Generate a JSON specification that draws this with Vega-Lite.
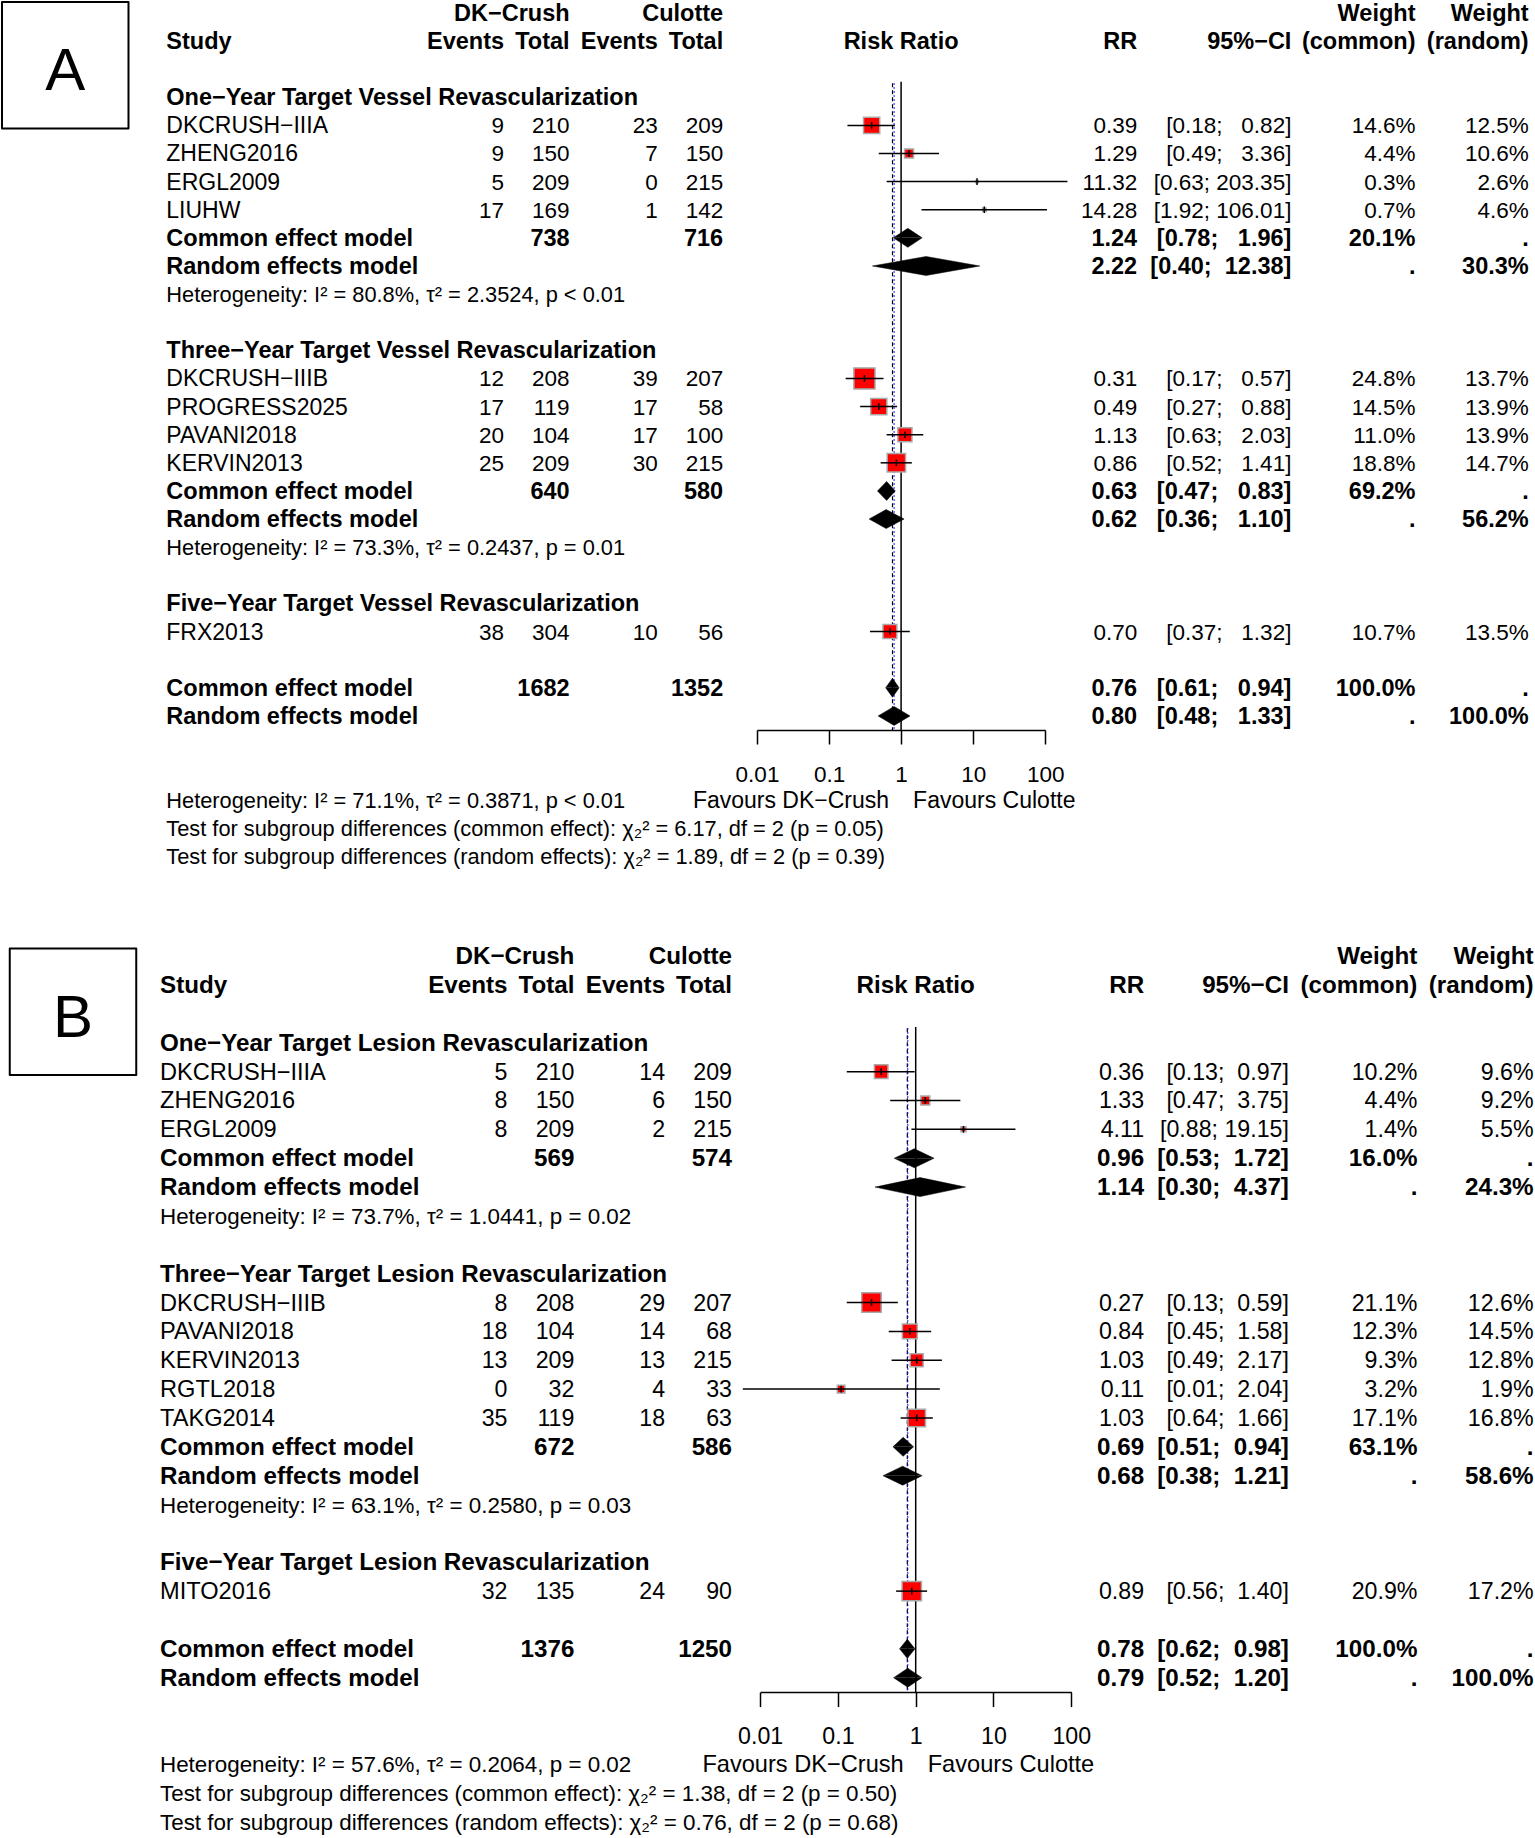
{
"$schema": "https://vega.github.io/schema/vega-lite/v6.json",
"padding": 0,
"background": "white",
"spacing": 0,
"bounds": "flush",
"config": {"view": {"stroke": null}},
"datasets": {
"cols": [{"col":"de","idx":2},{"col":"dt","idx":3},{"col":"ce","idx":4},{"col":"ct","idx":5},{"col":"rrt","idx":6},{"col":"ci","idx":7},{"col":"wc","idx":8},{"col":"wr","idx":9}],
"A": [
{"row":0,"kind":"header","dt":"DK−Crush","ct":"Culotte","wc":"Weight","wr":"Weight"},
{"row":1,"kind":"header","label":"Study","de":"Events","dt":"Total","ce":"Events","ct":"Total","rrt":"RR","ci":"95%−CI","wc":"(common)","wr":"(random)"},
{"row":3,"kind":"group","label":"One−Year Target Vessel Revascularization"},
{"row":4,"kind":"study","label":"DKCRUSH−IIIA","de":9,"dt":210,"ce":23,"ct":209,"rr":0.39,"lo":0.18,"hi":0.82,"rrt":"0.39","ci":"[0.18;\u00a0\u00a0\u00a00.82]","wc":"14.6%","wr":"12.5%","w":14.6},
{"row":5,"kind":"study","label":"ZHENG2016","de":9,"dt":150,"ce":7,"ct":150,"rr":1.29,"lo":0.49,"hi":3.36,"rrt":"1.29","ci":"[0.49;\u00a0\u00a0\u00a03.36]","wc":"4.4%","wr":"10.6%","w":4.4},
{"row":6,"kind":"study","label":"ERGL2009","de":5,"dt":209,"ce":0,"ct":215,"rr":11.32,"lo":0.63,"hi":203.35,"rrt":"11.32","ci":"[0.63;\u00a0203.35]","wc":"0.3%","wr":"2.6%","w":0.3},
{"row":7,"kind":"study","label":"LIUHW","de":17,"dt":169,"ce":1,"ct":142,"rr":14.28,"lo":1.92,"hi":106.01,"rrt":"14.28","ci":"[1.92;\u00a0106.01]","wc":"0.7%","wr":"4.6%","w":0.7},
{"row":8,"kind":"common","label":"Common effect model","dt":738,"ct":716,"rr":1.24,"lo":0.78,"hi":1.96,"rrt":"1.24","ci":"[0.78;\u00a0\u00a0\u00a01.96]","wc":"20.1%","wr":"."},
{"row":9,"kind":"random","label":"Random effects model","rr":2.22,"lo":0.40,"hi":12.38,"rrt":"2.22","ci":"[0.40;\u00a0\u00a012.38]","wc":".","wr":"30.3%"},
{"row":10,"kind":"note","label":"Heterogeneity: I² = 80.8%, τ² = 2.3524, p < 0.01"},
{"row":12,"kind":"group","label":"Three−Year Target Vessel Revascularization"},
{"row":13,"kind":"study","label":"DKCRUSH−IIIB","de":12,"dt":208,"ce":39,"ct":207,"rr":0.31,"lo":0.17,"hi":0.57,"rrt":"0.31","ci":"[0.17;\u00a0\u00a0\u00a00.57]","wc":"24.8%","wr":"13.7%","w":24.8},
{"row":14,"kind":"study","label":"PROGRESS2025","de":17,"dt":119,"ce":17,"ct":58,"rr":0.49,"lo":0.27,"hi":0.88,"rrt":"0.49","ci":"[0.27;\u00a0\u00a0\u00a00.88]","wc":"14.5%","wr":"13.9%","w":14.5},
{"row":15,"kind":"study","label":"PAVANI2018","de":20,"dt":104,"ce":17,"ct":100,"rr":1.13,"lo":0.63,"hi":2.03,"rrt":"1.13","ci":"[0.63;\u00a0\u00a0\u00a02.03]","wc":"11.0%","wr":"13.9%","w":11.0},
{"row":16,"kind":"study","label":"KERVIN2013","de":25,"dt":209,"ce":30,"ct":215,"rr":0.86,"lo":0.52,"hi":1.41,"rrt":"0.86","ci":"[0.52;\u00a0\u00a0\u00a01.41]","wc":"18.8%","wr":"14.7%","w":18.8},
{"row":17,"kind":"common","label":"Common effect model","dt":640,"ct":580,"rr":0.63,"lo":0.47,"hi":0.83,"rrt":"0.63","ci":"[0.47;\u00a0\u00a0\u00a00.83]","wc":"69.2%","wr":"."},
{"row":18,"kind":"random","label":"Random effects model","rr":0.62,"lo":0.36,"hi":1.10,"rrt":"0.62","ci":"[0.36;\u00a0\u00a0\u00a01.10]","wc":".","wr":"56.2%"},
{"row":19,"kind":"note","label":"Heterogeneity: I² = 73.3%, τ² = 0.2437, p = 0.01"},
{"row":21,"kind":"group","label":"Five−Year Target Vessel Revascularization"},
{"row":22,"kind":"study","label":"FRX2013","de":38,"dt":304,"ce":10,"ct":56,"rr":0.70,"lo":0.37,"hi":1.32,"rrt":"0.70","ci":"[0.37;\u00a0\u00a0\u00a01.32]","wc":"10.7%","wr":"13.5%","w":10.7},
{"row":24,"kind":"ocommon","label":"Common effect model","dt":1682,"ct":1352,"rr":0.76,"lo":0.61,"hi":0.94,"rrt":"0.76","ci":"[0.61;\u00a0\u00a0\u00a00.94]","wc":"100.0%","wr":"."},
{"row":25,"kind":"orandom","label":"Random effects model","rr":0.80,"lo":0.48,"hi":1.33,"rrt":"0.80","ci":"[0.48;\u00a0\u00a0\u00a01.33]","wc":".","wr":"100.0%"},
{"row":28,"kind":"note","label":"Heterogeneity: I² = 71.1%, τ² = 0.3871, p < 0.01"},
{"row":29,"kind":"note","label":"Test for subgroup differences (common effect): χ₂² = 6.17, df = 2 (p = 0.05)"},
{"row":30,"kind":"note","label":"Test for subgroup differences (random effects): χ₂² = 1.89, df = 2 (p = 0.39)"}
],
"B": [
{"row":0,"kind":"header","dt":"DK−Crush","ct":"Culotte","wc":"Weight","wr":"Weight"},
{"row":1,"kind":"header","label":"Study","de":"Events","dt":"Total","ce":"Events","ct":"Total","rrt":"RR","ci":"95%−CI","wc":"(common)","wr":"(random)"},
{"row":3,"kind":"group","label":"One−Year Target Lesion Revascularization"},
{"row":4,"kind":"study","label":"DKCRUSH−IIIA","de":5,"dt":210,"ce":14,"ct":209,"rr":0.36,"lo":0.13,"hi":0.97,"rrt":"0.36","ci":"[0.13;\u00a0\u00a00.97]","wc":"10.2%","wr":"9.6%","w":10.2},
{"row":5,"kind":"study","label":"ZHENG2016","de":8,"dt":150,"ce":6,"ct":150,"rr":1.33,"lo":0.47,"hi":3.75,"rrt":"1.33","ci":"[0.47;\u00a0\u00a03.75]","wc":"4.4%","wr":"9.2%","w":4.4},
{"row":6,"kind":"study","label":"ERGL2009","de":8,"dt":209,"ce":2,"ct":215,"rr":4.11,"lo":0.88,"hi":19.15,"rrt":"4.11","ci":"[0.88;\u00a019.15]","wc":"1.4%","wr":"5.5%","w":1.4},
{"row":7,"kind":"common","label":"Common effect model","dt":569,"ct":574,"rr":0.96,"lo":0.53,"hi":1.72,"rrt":"0.96","ci":"[0.53;\u00a0\u00a01.72]","wc":"16.0%","wr":"."},
{"row":8,"kind":"random","label":"Random effects model","rr":1.14,"lo":0.30,"hi":4.37,"rrt":"1.14","ci":"[0.30;\u00a0\u00a04.37]","wc":".","wr":"24.3%"},
{"row":9,"kind":"note","label":"Heterogeneity: I² = 73.7%, τ² = 1.0441, p = 0.02"},
{"row":11,"kind":"group","label":"Three−Year Target Lesion Revascularization"},
{"row":12,"kind":"study","label":"DKCRUSH−IIIB","de":8,"dt":208,"ce":29,"ct":207,"rr":0.27,"lo":0.13,"hi":0.59,"rrt":"0.27","ci":"[0.13;\u00a0\u00a00.59]","wc":"21.1%","wr":"12.6%","w":21.1},
{"row":13,"kind":"study","label":"PAVANI2018","de":18,"dt":104,"ce":14,"ct":68,"rr":0.84,"lo":0.45,"hi":1.58,"rrt":"0.84","ci":"[0.45;\u00a0\u00a01.58]","wc":"12.3%","wr":"14.5%","w":12.3},
{"row":14,"kind":"study","label":"KERVIN2013","de":13,"dt":209,"ce":13,"ct":215,"rr":1.03,"lo":0.49,"hi":2.17,"rrt":"1.03","ci":"[0.49;\u00a0\u00a02.17]","wc":"9.3%","wr":"12.8%","w":9.3},
{"row":15,"kind":"study","label":"RGTL2018","de":0,"dt":32,"ce":4,"ct":33,"rr":0.11,"lo":0.006,"hi":2.04,"rrt":"0.11","ci":"[0.01;\u00a0\u00a02.04]","wc":"3.2%","wr":"1.9%","w":3.2},
{"row":16,"kind":"study","label":"TAKG2014","de":35,"dt":119,"ce":18,"ct":63,"rr":1.03,"lo":0.64,"hi":1.66,"rrt":"1.03","ci":"[0.64;\u00a0\u00a01.66]","wc":"17.1%","wr":"16.8%","w":17.1},
{"row":17,"kind":"common","label":"Common effect model","dt":672,"ct":586,"rr":0.69,"lo":0.51,"hi":0.94,"rrt":"0.69","ci":"[0.51;\u00a0\u00a00.94]","wc":"63.1%","wr":"."},
{"row":18,"kind":"random","label":"Random effects model","rr":0.68,"lo":0.38,"hi":1.21,"rrt":"0.68","ci":"[0.38;\u00a0\u00a01.21]","wc":".","wr":"58.6%"},
{"row":19,"kind":"note","label":"Heterogeneity: I² = 63.1%, τ² = 0.2580, p = 0.03"},
{"row":21,"kind":"group","label":"Five−Year Target Lesion Revascularization"},
{"row":22,"kind":"study","label":"MITO2016","de":32,"dt":135,"ce":24,"ct":90,"rr":0.89,"lo":0.56,"hi":1.40,"rrt":"0.89","ci":"[0.56;\u00a0\u00a01.40]","wc":"20.9%","wr":"17.2%","w":20.9},
{"row":24,"kind":"ocommon","label":"Common effect model","dt":1376,"ct":1250,"rr":0.78,"lo":0.62,"hi":0.98,"rrt":"0.78","ci":"[0.62;\u00a0\u00a00.98]","wc":"100.0%","wr":"."},
{"row":25,"kind":"orandom","label":"Random effects model","rr":0.79,"lo":0.52,"hi":1.20,"rrt":"0.79","ci":"[0.52;\u00a0\u00a01.20]","wc":".","wr":"100.0%"},
{"row":28,"kind":"note","label":"Heterogeneity: I² = 57.6%, τ² = 0.2064, p = 0.02"},
{"row":29,"kind":"note","label":"Test for subgroup differences (common effect): χ₂² = 1.38, df = 2 (p = 0.50)"},
{"row":30,"kind":"note","label":"Test for subgroup differences (random effects): χ₂² = 0.76, df = 2 (p = 0.68)"}
]
},
"vconcat": [
{
"width": 1535, "height": 900,
"data": {"name": "A"},
"resolve": {"scale": {"x": "independent", "y": "independent"}},
"layer": [
{"layer": [
{"transform": [{"filter": {"field": "kind", "equal": "study"}}],
 "mark": {"type": "text", "align": "left", "baseline": "middle", "dy": 1, "font": "Liberation Sans", "fontSize": 23, "color": "black"},
 "encoding": {"x": {"datum": 1, "type": "quantitative", "scale": {"type": "linear", "domain": [0,1,2,3,4,5,6,7,8,9], "range": [65.25,166.3,504.1,569.6,657.8,723.2,1137.2,1291.4,1415.5,1528.7], "nice": false, "zero": false}, "axis": null},
  "y": {"field": "row", "type": "quantitative", "scale": {"domain": [-0.4587, 31.547], "reverse": true, "nice": false, "zero": false}, "axis": null},
  "text": {"field": "label", "type": "nominal"}}},
{"transform": [{"filter": {"field": "kind", "equal": "note"}}],
 "mark": {"type": "text", "align": "left", "baseline": "middle", "dy": 1, "font": "Liberation Sans", "fontSize": 21.8, "color": "black"},
 "encoding": {"x": {"datum": 1, "type": "quantitative", "axis": null},
  "y": {"field": "row", "type": "quantitative", "axis": null},
  "text": {"field": "label", "type": "nominal"}}},
{"transform": [{"filter": {"field": "kind", "oneOf": ["header","group","common","random","ocommon","orandom"]}}, {"filter": "isValid(datum.label)"}],
 "mark": {"type": "text", "align": "left", "baseline": "middle", "dy": 1, "font": "Liberation Sans", "fontSize": 23.5, "fontWeight": "bold", "color": "black"},
 "encoding": {"x": {"datum": 1, "type": "quantitative", "axis": null},
  "y": {"field": "row", "type": "quantitative", "axis": null},
  "text": {"field": "label", "type": "nominal"}}},
{"transform": [{"filter": {"field": "kind", "equal": "study"}}, {"fold": ["de","dt","ce","ct","rrt","ci","wc","wr"], "as": ["col","txt"]}, {"filter": "isValid(datum.txt)"}, {"lookup": "col", "from": {"data": {"name": "cols"}, "key": "col", "fields": ["idx"]}}],
 "mark": {"type": "text", "align": "right", "baseline": "middle", "dy": 1, "font": "Liberation Sans", "fontSize": 22.5, "color": "black"},
 "encoding": {"x": {"field": "idx", "type": "quantitative", "axis": null},
  "y": {"field": "row", "type": "quantitative", "axis": null},
  "text": {"field": "txt", "type": "nominal"}}},
{"transform": [{"filter": {"field": "kind", "oneOf": ["header","group","common","random","ocommon","orandom"]}}, {"fold": ["de","dt","ce","ct","rrt","ci","wc","wr"], "as": ["col","txt"]}, {"filter": "isValid(datum.txt)"}, {"lookup": "col", "from": {"data": {"name": "cols"}, "key": "col", "fields": ["idx"]}}],
 "mark": {"type": "text", "align": "right", "baseline": "middle", "dy": 1, "font": "Liberation Sans", "fontSize": 23.5, "fontWeight": "bold", "color": "black"},
 "encoding": {"x": {"field": "idx", "type": "quantitative", "axis": null},
  "y": {"field": "row", "type": "quantitative", "axis": null},
  "text": {"field": "txt", "type": "nominal"}}},
{"data": {"values": [{}]},
 "mark": {"type": "point", "shape": "square", "size": 16002, "filled": false, "stroke": "black", "strokeWidth": 2, "strokeJoin": "round", "opacity": 1},
 "encoding": {"x": {"datum": 0, "type": "quantitative", "axis": null}, "y": {"datum": 1.8634, "type": "quantitative", "axis": null}}},
{"data": {"values": [{"t": "A"}]},
 "mark": {"type": "text", "align": "center", "baseline": "middle", "font": "Liberation Sans", "fontSize": 60, "color": "black"},
 "encoding": {"x": {"datum": 0, "type": "quantitative", "axis": null}, "y": {"datum": 2.084, "type": "quantitative", "axis": null}, "text": {"field": "t", "type": "nominal"}}}
]},
{"layer": [
{"data": {"values": [{}]},
 "mark": {"type": "rule", "color": "black", "strokeWidth": 1.5},
 "encoding": {"x": {"datum": 1, "type": "quantitative", "scale": {"type": "log", "domain": [0.01, 100], "range": [757, 1045.2], "nice": false},
   "axis": {"orient": "bottom", "offset": -170, "values": [0.01,0.1,1,10,100], "format": "~g", "tickSize": 14, "tickWidth": 1.5, "tickColor": "black", "domainColor": "black", "domainWidth": 1.5, "labelFontSize": 22.5, "labelFont": "Liberation Sans", "labelColor": "black", "labelPadding": 19.5, "labelFlush": false, "labelOverlap": false, "grid": false, "title": null}},
  "y": {"datum": 2.45, "type": "quantitative", "scale": {"domain": [-0.4587, 31.547], "reverse": true, "nice": false, "zero": false}, "axis": null}, "y2": {"datum": 25.5}}},
{"transform": [{"filter": {"field": "kind", "equal": "ocommon"}}],
 "mark": {"type": "rule", "color": "black", "strokeWidth": 1.2, "strokeDash": [4, 3]},
 "encoding": {"x": {"field": "rr", "type": "quantitative"}, "y": {"datum": 2.5, "type": "quantitative", "axis": null}, "y2": {"datum": 25.5}}},
{"transform": [{"filter": {"field": "kind", "equal": "orandom"}}],
 "mark": {"type": "rule", "color": "#0000ff", "strokeWidth": 1.2, "strokeDash": [1.5, 2.5]},
 "encoding": {"x": {"field": "rr", "type": "quantitative"}, "y": {"datum": 2.5, "type": "quantitative", "axis": null}, "y2": {"datum": 25.5}}},
{"transform": [{"filter": {"field": "kind", "equal": "study"}}],
 "mark": {"type": "point", "shape": "square", "filled": true, "color": "#ff0000", "stroke": "#a9a9a9", "strokeWidth": 1.5, "opacity": 1},
 "encoding": {"x": {"field": "rr", "type": "quantitative"}, "y": {"field": "row", "type": "quantitative", "axis": null},
  "size": {"field": "w", "type": "quantitative", "scale": {"domain": [0, 25], "range": [0, 450], "zero": true}, "legend": null}}},
{"transform": [{"filter": {"field": "kind", "equal": "study"}}],
 "mark": {"type": "rule", "color": "black", "strokeWidth": 1.5},
 "encoding": {"x": {"field": "lo", "type": "quantitative"}, "x2": {"field": "hi"}, "y": {"field": "row", "type": "quantitative", "axis": null}}},
{"transform": [{"filter": {"field": "kind", "equal": "study"}}],
 "mark": {"type": "point", "shape": "M0,-1L0,1", "size": 44, "filled": false, "stroke": "black", "strokeWidth": 1.5, "opacity": 1},
 "encoding": {"x": {"field": "rr", "type": "quantitative"}, "y": {"field": "row", "type": "quantitative", "axis": null}}},
{"data": {"values": [{"t": "Risk Ratio"}]},
 "mark": {"type": "text", "align": "center", "baseline": "middle", "dy": 1, "font": "Liberation Sans", "fontSize": 23.5, "fontWeight": "bold", "color": "black"},
 "encoding": {"x": {"datum": 1, "type": "quantitative"}, "y": {"datum": 1, "type": "quantitative", "axis": null}, "text": {"field": "t", "type": "nominal"}}},
{"data": {"values": [{"t": "Favours DK−Crush"}]},
 "mark": {"type": "text", "align": "right", "baseline": "middle", "dy": 1, "dx": -12, "font": "Liberation Sans", "fontSize": 23, "color": "black"},
 "encoding": {"x": {"datum": 1, "type": "quantitative"}, "y": {"datum": 28, "type": "quantitative", "axis": null}, "text": {"field": "t", "type": "nominal"}}},
{"data": {"values": [{"t": "Favours Culotte"}]},
 "mark": {"type": "text", "align": "left", "baseline": "middle", "dy": 1, "dx": 12, "font": "Liberation Sans", "fontSize": 23, "color": "black"},
 "encoding": {"x": {"datum": 1, "type": "quantitative"}, "y": {"datum": 28, "type": "quantitative", "axis": null}, "text": {"field": "t", "type": "nominal"}}}
]},
{"resolve": {"scale": {"yOffset": "independent"}},
 "transform": [{"filter": {"field": "kind", "oneOf": ["common","random","ocommon","orandom"]}}, {"fold": ["lo","rr","hi"], "as": ["pt","val"]}, {"window": [{"op": "row_number", "as": "vi"}], "groupby": ["row"]}],
 "layer": [
{"mark": {"type": "line", "fill": "black", "stroke": "black", "strokeWidth": 0.5},
 "encoding": {"x": {"field": "val", "type": "quantitative", "scale": {"type": "log", "domain": [0.01, 100], "range": [757, 1045.2], "nice": false}, "axis": null},
  "y": {"field": "row", "type": "ordinal", "scale": {"type": "band", "domain": [0,1,2,3,4,5,6,7,8,9,10,11,12,13,14,15,16,17,18,19,20,21,22,23,24,25,26,27,28,29,30,31], "paddingInner": 0, "paddingOuter": 0.003, "align": 0, "round": false}, "axis": null},
  "yOffset": {"field": "vi", "type": "quantitative", "scale": {"domain": [1, 2, 3], "range": [12.9, 3.4, 12.9], "nice": false, "zero": false}},
  "order": {"field": "vi", "type": "quantitative"},
  "detail": {"field": "row", "type": "nominal"}}},
{"mark": {"type": "line", "fill": "black", "stroke": "black", "strokeWidth": 0.5},
 "encoding": {"x": {"field": "val", "type": "quantitative"},
  "y": {"field": "row", "type": "ordinal", "axis": null},
  "yOffset": {"field": "vi", "type": "quantitative", "scale": {"domain": [1, 2, 3], "range": [12.9, 22.4, 12.9], "nice": false, "zero": false}},
  "order": {"field": "vi", "type": "quantitative"},
  "detail": {"field": "row", "type": "nominal"}}}
]}
]
},
{
"width": 1535, "height": 938,
"data": {"name": "B"},
"resolve": {"scale": {"x": "independent", "y": "independent"}},
"layer": [
{"layer": [
{"transform": [{"filter": {"field": "kind", "equal": "study"}}],
 "mark": {"type": "text", "align": "left", "baseline": "middle", "dy": 1, "font": "Liberation Sans", "fontSize": 23.6, "color": "black"},
 "encoding": {"x": {"datum": 1, "type": "quantitative", "scale": {"type": "linear", "domain": [0,1,2,3,4,5,6,7,8,9], "range": [73,160,507.5,574.4,665.1,732,1144.1,1288.9,1417.4,1533.6], "nice": false, "zero": false}, "axis": null},
  "y": {"field": "row", "type": "quantitative", "scale": {"domain": [-1.9473, 30.5544], "reverse": true, "nice": false, "zero": false}, "axis": null},
  "text": {"field": "label", "type": "nominal"}}},
{"transform": [{"filter": {"field": "kind", "equal": "note"}}],
 "mark": {"type": "text", "align": "left", "baseline": "middle", "dy": 1, "font": "Liberation Sans", "fontSize": 22.4, "color": "black"},
 "encoding": {"x": {"datum": 1, "type": "quantitative", "axis": null},
  "y": {"field": "row", "type": "quantitative", "axis": null},
  "text": {"field": "label", "type": "nominal"}}},
{"transform": [{"filter": {"field": "kind", "oneOf": ["header","group","common","random","ocommon","orandom"]}}, {"filter": "isValid(datum.label)"}],
 "mark": {"type": "text", "align": "left", "baseline": "middle", "dy": 1, "font": "Liberation Sans", "fontSize": 24.2, "fontWeight": "bold", "color": "black"},
 "encoding": {"x": {"datum": 1, "type": "quantitative", "axis": null},
  "y": {"field": "row", "type": "quantitative", "axis": null},
  "text": {"field": "label", "type": "nominal"}}},
{"transform": [{"filter": {"field": "kind", "equal": "study"}}, {"fold": ["de","dt","ce","ct","rrt","ci","wc","wr"], "as": ["col","txt"]}, {"filter": "isValid(datum.txt)"}, {"lookup": "col", "from": {"data": {"name": "cols"}, "key": "col", "fields": ["idx"]}}],
 "mark": {"type": "text", "align": "right", "baseline": "middle", "dy": 1, "font": "Liberation Sans", "fontSize": 23.2, "color": "black"},
 "encoding": {"x": {"field": "idx", "type": "quantitative", "axis": null},
  "y": {"field": "row", "type": "quantitative", "axis": null},
  "text": {"field": "txt", "type": "nominal"}}},
{"transform": [{"filter": {"field": "kind", "oneOf": ["header","group","common","random","ocommon","orandom"]}}, {"fold": ["de","dt","ce","ct","rrt","ci","wc","wr"], "as": ["col","txt"]}, {"filter": "isValid(datum.txt)"}, {"lookup": "col", "from": {"data": {"name": "cols"}, "key": "col", "fields": ["idx"]}}],
 "mark": {"type": "text", "align": "right", "baseline": "middle", "dy": 1, "font": "Liberation Sans", "fontSize": 24.2, "fontWeight": "bold", "color": "black"},
 "encoding": {"x": {"field": "idx", "type": "quantitative", "axis": null},
  "y": {"field": "row", "type": "quantitative", "axis": null},
  "text": {"field": "txt", "type": "nominal"}}},
{"data": {"values": [{}]},
 "mark": {"type": "point", "shape": "square", "size": 16002, "filled": false, "stroke": "black", "strokeWidth": 2, "strokeJoin": "round", "opacity": 1},
 "encoding": {"x": {"datum": 0, "type": "quantitative", "axis": null}, "y": {"datum": 1.923, "type": "quantitative", "axis": null}}},
{"data": {"values": [{"t": "B"}]},
 "mark": {"type": "text", "align": "center", "baseline": "middle", "font": "Liberation Sans", "fontSize": 60, "color": "black"},
 "encoding": {"x": {"datum": 0, "type": "quantitative", "axis": null}, "y": {"datum": 2.159, "type": "quantitative", "axis": null}, "text": {"field": "t", "type": "nominal"}}}
]},
{"layer": [
{"data": {"values": [{}]},
 "mark": {"type": "rule", "color": "black", "strokeWidth": 1.5},
 "encoding": {"x": {"datum": 1, "type": "quantitative", "scale": {"type": "log", "domain": [0.01, 100], "range": [760.1, 1071.3], "nice": false},
   "axis": {"orient": "bottom", "offset": -145.9, "values": [0.01,0.1,1,10,100], "format": "~g", "tickSize": 14.5, "tickWidth": 1.5, "tickColor": "black", "domainColor": "black", "domainWidth": 1.5, "labelFontSize": 23.2, "labelFont": "Liberation Sans", "labelColor": "black", "labelPadding": 19, "labelFlush": false, "labelOverlap": false, "grid": false, "title": null}},
  "y": {"datum": 2.45, "type": "quantitative", "scale": {"domain": [-1.9473, 30.5544], "reverse": true, "nice": false, "zero": false}, "axis": null}, "y2": {"datum": 25.5}}},
{"transform": [{"filter": {"field": "kind", "equal": "ocommon"}}],
 "mark": {"type": "rule", "color": "black", "strokeWidth": 1.2, "strokeDash": [4, 3]},
 "encoding": {"x": {"field": "rr", "type": "quantitative"}, "y": {"datum": 2.5, "type": "quantitative", "axis": null}, "y2": {"datum": 25.5}}},
{"transform": [{"filter": {"field": "kind", "equal": "orandom"}}],
 "mark": {"type": "rule", "color": "#0000ff", "strokeWidth": 1.2, "strokeDash": [1.5, 2.5]},
 "encoding": {"x": {"field": "rr", "type": "quantitative"}, "y": {"datum": 2.5, "type": "quantitative", "axis": null}, "y2": {"datum": 25.5}}},
{"transform": [{"filter": {"field": "kind", "equal": "study"}}],
 "mark": {"type": "point", "shape": "square", "filled": true, "color": "#ff0000", "stroke": "#a9a9a9", "strokeWidth": 1.5, "opacity": 1},
 "encoding": {"x": {"field": "rr", "type": "quantitative"}, "y": {"field": "row", "type": "quantitative", "axis": null},
  "size": {"field": "w", "type": "quantitative", "scale": {"domain": [0, 25], "range": [0, 640], "zero": true}, "legend": null}}},
{"transform": [{"filter": {"field": "kind", "equal": "study"}}],
 "mark": {"type": "rule", "color": "black", "strokeWidth": 1.5},
 "encoding": {"x": {"field": "lo", "type": "quantitative"}, "x2": {"field": "hi"}, "y": {"field": "row", "type": "quantitative", "axis": null}}},
{"transform": [{"filter": {"field": "kind", "equal": "study"}}],
 "mark": {"type": "point", "shape": "M0,-1L0,1", "size": 44, "filled": false, "stroke": "black", "strokeWidth": 1.5, "opacity": 1},
 "encoding": {"x": {"field": "rr", "type": "quantitative"}, "y": {"field": "row", "type": "quantitative", "axis": null}}},
{"data": {"values": [{"t": "Risk Ratio"}]},
 "mark": {"type": "text", "align": "center", "baseline": "middle", "dy": 1, "font": "Liberation Sans", "fontSize": 24.2, "fontWeight": "bold", "color": "black"},
 "encoding": {"x": {"datum": 1, "type": "quantitative"}, "y": {"datum": 1, "type": "quantitative", "axis": null}, "text": {"field": "t", "type": "nominal"}}},
{"data": {"values": [{"t": "Favours DK−Crush"}]},
 "mark": {"type": "text", "align": "right", "baseline": "middle", "dy": 1, "dx": -12, "font": "Liberation Sans", "fontSize": 23.6, "color": "black"},
 "encoding": {"x": {"datum": 1, "type": "quantitative"}, "y": {"datum": 28, "type": "quantitative", "axis": null}, "text": {"field": "t", "type": "nominal"}}},
{"data": {"values": [{"t": "Favours Culotte"}]},
 "mark": {"type": "text", "align": "left", "baseline": "middle", "dy": 1, "dx": 12, "font": "Liberation Sans", "fontSize": 23.6, "color": "black"},
 "encoding": {"x": {"datum": 1, "type": "quantitative"}, "y": {"datum": 28, "type": "quantitative", "axis": null}, "text": {"field": "t", "type": "nominal"}}}
]},
{"resolve": {"scale": {"yOffset": "independent"}},
 "transform": [{"filter": {"field": "kind", "oneOf": ["common","random","ocommon","orandom"]}}, {"fold": ["lo","rr","hi"], "as": ["pt","val"]}, {"window": [{"op": "row_number", "as": "vi"}], "groupby": ["row"]}],
 "layer": [
{"mark": {"type": "line", "fill": "black", "stroke": "black", "strokeWidth": 0.5},
 "encoding": {"x": {"field": "val", "type": "quantitative", "scale": {"type": "log", "domain": [0.01, 100], "range": [760.1, 1071.3], "nice": false}, "axis": null},
  "y": {"field": "row", "type": "ordinal", "scale": {"type": "band", "domain": [-1,0,1,2,3,4,5,6,7,8,9,10,11,12,13,14,15,16,17,18,19,20,21,22,23,24,25,26,27,28,29,30], "paddingInner": 0, "paddingOuter": 0.2509, "align": 0, "round": false}, "axis": null},
  "yOffset": {"field": "vi", "type": "quantitative", "scale": {"domain": [1, 2, 3], "range": [27.34, 17.84, 27.34], "nice": false, "zero": false}},
  "order": {"field": "vi", "type": "quantitative"},
  "detail": {"field": "row", "type": "nominal"}}},
{"mark": {"type": "line", "fill": "black", "stroke": "black", "strokeWidth": 0.5},
 "encoding": {"x": {"field": "val", "type": "quantitative"},
  "y": {"field": "row", "type": "ordinal", "axis": null},
  "yOffset": {"field": "vi", "type": "quantitative", "scale": {"domain": [1, 2, 3], "range": [27.34, 36.84, 27.34], "nice": false, "zero": false}},
  "order": {"field": "vi", "type": "quantitative"},
  "detail": {"field": "row", "type": "nominal"}}}
]}
]
}
]
}
